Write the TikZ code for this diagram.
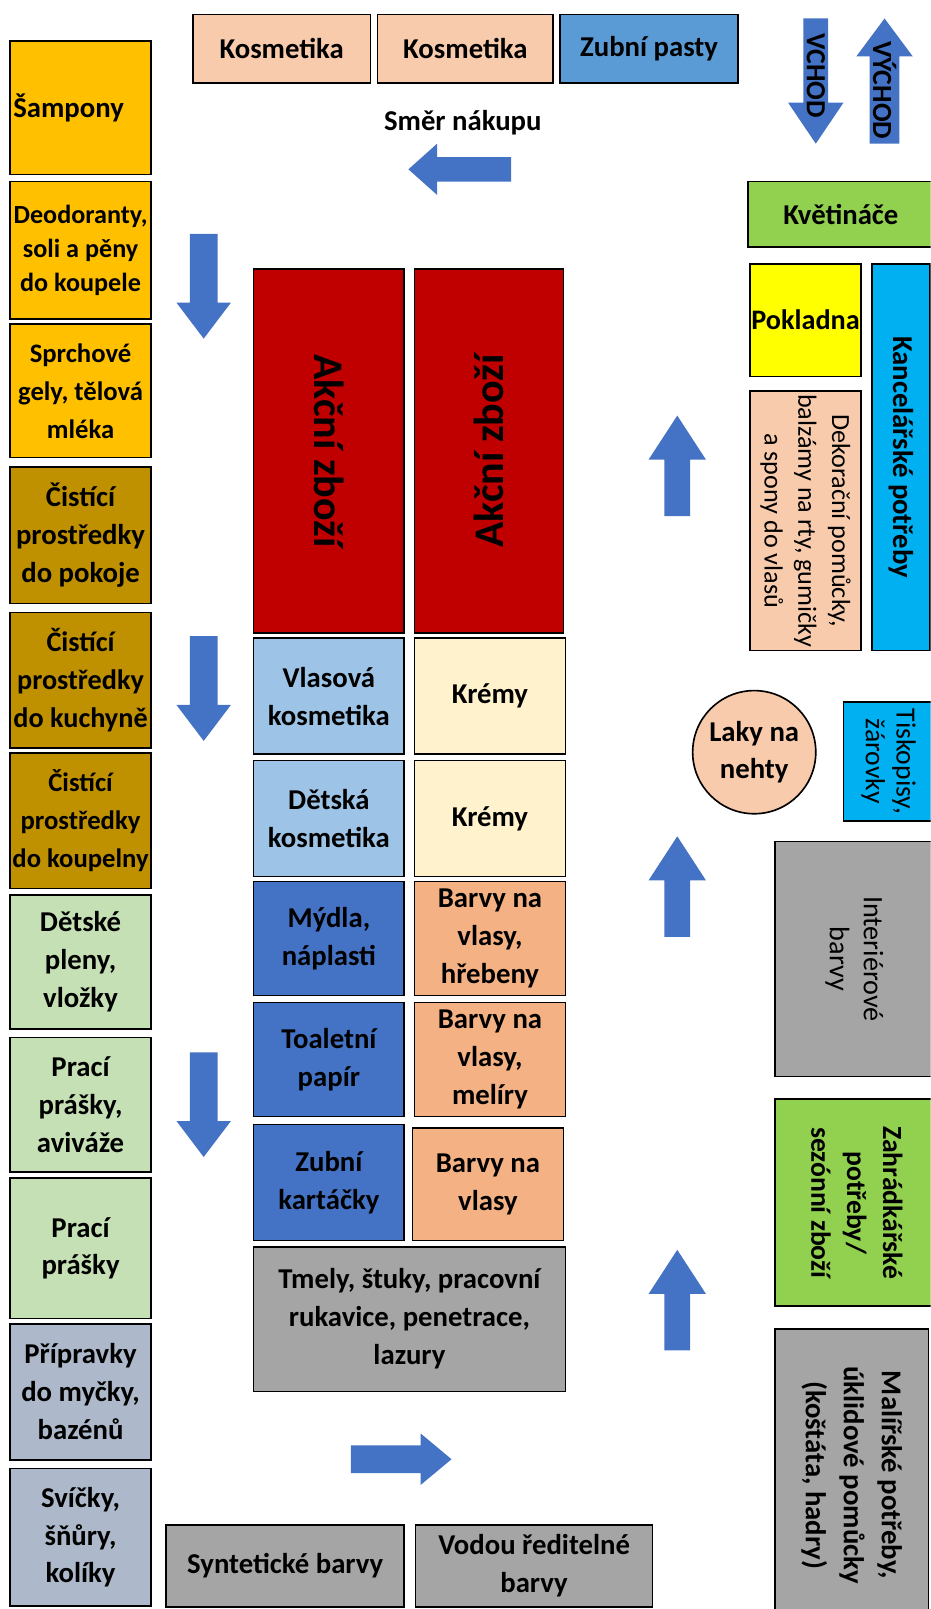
\documentclass[tikz,border=0pt]{standalone}
\usepackage{fontspec}
\setmainfont{Carlito}
\usepackage{tikz}
\usetikzlibrary{shapes.geometric}
\definecolor{peach}{HTML}{F8CBAD}
\definecolor{pastablue}{HTML}{5B9BD5}
\definecolor{goldbox}{HTML}{FFC000}
\definecolor{ochre}{HTML}{BF9000}
\definecolor{mint}{HTML}{C5E0B4}
\definecolor{slate}{HTML}{ADB9CA}
\definecolor{saleRed}{HTML}{C00000}
\definecolor{hairblue}{HTML}{9DC3E6}
\definecolor{cream}{HTML}{FFF2CC}
\definecolor{soapblue}{HTML}{4472C4}
\definecolor{salmon}{HTML}{F4B183}
\definecolor{stone}{HTML}{A5A5A5}
\definecolor{leaf}{HTML}{92D050}
\definecolor{lemon}{HTML}{FFFF00}
\definecolor{officeblue}{HTML}{00B0F0}
\definecolor{flowblue}{HTML}{4472C4}

\begin{document}
\begin{tikzpicture}[x=1pt, y=-1pt,
  shelf/.style={rectangle, draw=black, line width=1.6pt, align=center, inner sep=1pt,
    font=\fontsize{28}{37}\selectfont\bfseries},
  fs/.style 2 args={font=\fontsize{#1}{#2}\selectfont\bfseries},
  thin/.style 2 args={font=\fontsize{#1}{#2}\selectfont},
  dim/.style 2 args={minimum width=#1, minimum height=#2},
  pics/flow/.style n args={4}{code={
    \fill[flowblue] ({-#1/2},{-#3/2}) -- ({#1/2-#4},{-#3/2}) -- ({#1/2-#4},{-#2/2})
      -- ({#1/2},0) -- ({#1/2-#4},{#2/2}) -- ({#1/2-#4},{#3/2}) -- ({-#1/2},{#3/2}) -- cycle;
  }},
]
  \useasboundingbox (0,0) rectangle (907,1568);
  \clip (0,0) rectangle (907,1568);

  % top row
  \node[shelf, fill=peach, dim={173}{67}] (kosm1) at (274.5,47.5) {Kosmetika};
  \node[shelf, fill=peach, dim={171}{67}] (kosm2) at (453.5,47.5) {Kosmetika};
  \node[shelf, fill=pastablue, dim={173}{67}] (pasty) at (632.5,47.5) {Zubní pasty};

  % left wall
  \node[shelf, fill=goldbox, dim={137}{130}, text width=131pt, align=left] (sampony) at (78.5,105) {Šampony};
  \node[shelf, fill=goldbox, dim={137}{134}, fs={25.5}{33.5}] (deo) at (78.5,244)
    {Deodoranty,\\soli a pěny\\do koupele};
  \node[shelf, fill=goldbox, dim={137}{130}, fs={26}{37}] (sprchy) at (78.5,381) {Sprchové\\gely, tělová\\mléka};
  \node[shelf, fill=ochre, dim={137}{133}] (pokoj) at (78.5,521.5) {Čistící\\prostředky\\do pokoje};
  \node[shelf, fill=ochre, dim={137}{132}, fs={27.5}{37}] (kuchyn) at (78.5,663) {Čistící\\prostředky\\do kuchyně};
  \node[shelf, fill=ochre, dim={137}{132}, fs={26}{37}] (koupelna) at (78.5,800) {Čistící\\prostředky\\do koupelny};
  \node[shelf, fill=mint, dim={137}{131}] (pleny) at (78.5,937.5) {Dětské\\pleny,\\vložky};
  \node[shelf, fill=mint, dim={137}{131}] (avivaz) at (78.5,1076.5) {Prací\\prášky,\\aviváže};
  \node[shelf, fill=mint, dim={137}{137}] (prasky) at (78.5,1216.5) {Prací\\prášky};
  \node[shelf, fill=slate, dim={137}{133}] (mycky) at (78.5,1356.5) {Přípravky\\do myčky,\\bazénů};
  \node[shelf, fill=slate, dim={137}{134}] (svicky) at (78.5,1498) {Svíčky,\\šňůry,\\kolíky};

  % middle gondolas
  \node[shelf, fill=saleRed, rotate=-90, dim={355}{147}, fs={41}{46}] (akce1) at (320.5,439.5) {Akční zboží};
  \node[shelf, fill=saleRed, rotate=90, dim={355}{145}, fs={41}{46}] (akce2) at (476.5,439.5) {Akční zboží};
  \node[shelf, fill=hairblue, dim={147}{113}] (vlasova) at (320.5,678.5) {Vlasová\\kosmetika};
  \node[shelf, fill=cream, dim={147}{113}] (kremy1) at (477.5,678.5) {Krémy};
  \node[shelf, fill=hairblue, dim={147}{113}] (detska) at (320.5,797.5) {Dětská\\kosmetika};
  \node[shelf, fill=cream, dim={147}{113}] (kremy2) at (477.5,797.5) {Krémy};
  \node[shelf, fill=soapblue, dim={147}{111}] (mydla) at (320.5,914.5) {Mýdla,\\náplasti};
  \node[shelf, fill=salmon, dim={147}{111}] (barvy1) at (477.5,914.5) {Barvy na\\vlasy,\\hřebeny};
  \node[shelf, fill=soapblue, dim={147}{111}] (papir) at (320.5,1032.5) {Toaletní\\papír};
  \node[shelf, fill=salmon, dim={147}{111}] (barvy2) at (477.5,1032.5) {Barvy na\\vlasy,\\melíry};
  \node[shelf, fill=soapblue, dim={147}{113}] (kartacky) at (320.5,1152.5) {Zubní\\kartáčky};
  \node[shelf, fill=salmon, dim={147}{110}] (barvy3) at (475.5,1154) {Barvy na\\vlasy};
  \node[shelf, fill=stone, dim={304}{141}] (tmely) at (399,1285.5)
    {Tmely, štuky, pracovní\\rukavice, penetrace,\\lazury};

  % bottom row
  \node[shelf, fill=stone, dim={232}{80}] (synt) at (278,1526) {Syntetické barvy};
  \node[shelf, fill=stone, dim={231}{80}] (vodou) at (520.5,1526) {Vodou ředitelné\\barvy};

  % right wall
  \node[shelf, fill=leaf, dim={181}{64}] (kvetinace) at (819.5,209) {Květináče};
  \node[shelf, fill=lemon, dim={108}{110}, fs={27.5}{33}] (pokladna) at (785,312) {Pokladna};
  \node[shelf, fill=officeblue, rotate=-90, dim={377}{56}] (kancl) at (878,445.5) {Kancelářské potřeby};
  \node[shelf, fill=peach, rotate=-90, dim={253}{108}, thin={25.5}{33}] (dekor) at (785,507.5)
    {Dekorační pomůcky,\\balzámy na rty, gumičky\\a spony do vlasů};
  \node[shelf, circle, fill=peach, minimum size=120] (laky) at (735,733) {Laky na\\nehty};
  \node[shelf, fill=officeblue, rotate=-90, dim={116}{88}, thin={27}{30}] (tisk) at (866,742)
    {Tiskopisy,\\žárovky};
  \node[shelf, fill=stone, rotate=-90, dim={229}{155}, thin={27.5}{33}] (interier) at (832.5,934.5) {Interiérové\\barvy};
  \node[shelf, fill=leaf, rotate=-90, dim={202}{160}, fs={27}{35}] (zahrada) at (835,1172)
    {Zahrádkářské\\potřeby/\\sezónní zboží};
  \node[shelf, fill=stone, rotate=-90, dim={285}{150}] (malir) at (830,1437.5)
    {Malířské potřeby,\\úklidové pomůcky\\(koštáta, hadry)};

  % walking direction
  \node[fs={28}{30}] (smer) at (451,120) {Směr nákupu};
  \pic[rotate=180] at (448,165) {flow={100}{50}{24}{28}};
  \pic[rotate=-90] at (198.5,279) {flow={102}{53}{27}{35}};
  \pic[rotate=-90] at (198.5,671) {flow={102}{53}{27}{35}};
  \pic[rotate=-90] at (198.5,1076.5) {flow={102}{53}{27}{35}};
  \pic at (391,1422) {flow={98}{50}{27}{30}};
  \pic[rotate=90] at (660,454) {flow={98}{56}{25}{43}};
  \pic[rotate=90] at (660,864) {flow={98}{56}{25}{43}};
  \pic[rotate=90] at (660,1267) {flow={98}{56}{25}{43}};

  % entrance / exit
  \pic[rotate=-90] at (795,79) {flow={122}{54}{24}{40}};
  \pic[rotate=90] at (862,79) {flow={122}{55}{29}{37}};
  \node[rotate=-90, fs={27}{30}] (vchod) at (795,74) {VCHOD};
  \node[rotate=-90, fs={27}{30}] (vychod) at (862,88) {VÝCHOD};
\end{tikzpicture}
\end{document}
